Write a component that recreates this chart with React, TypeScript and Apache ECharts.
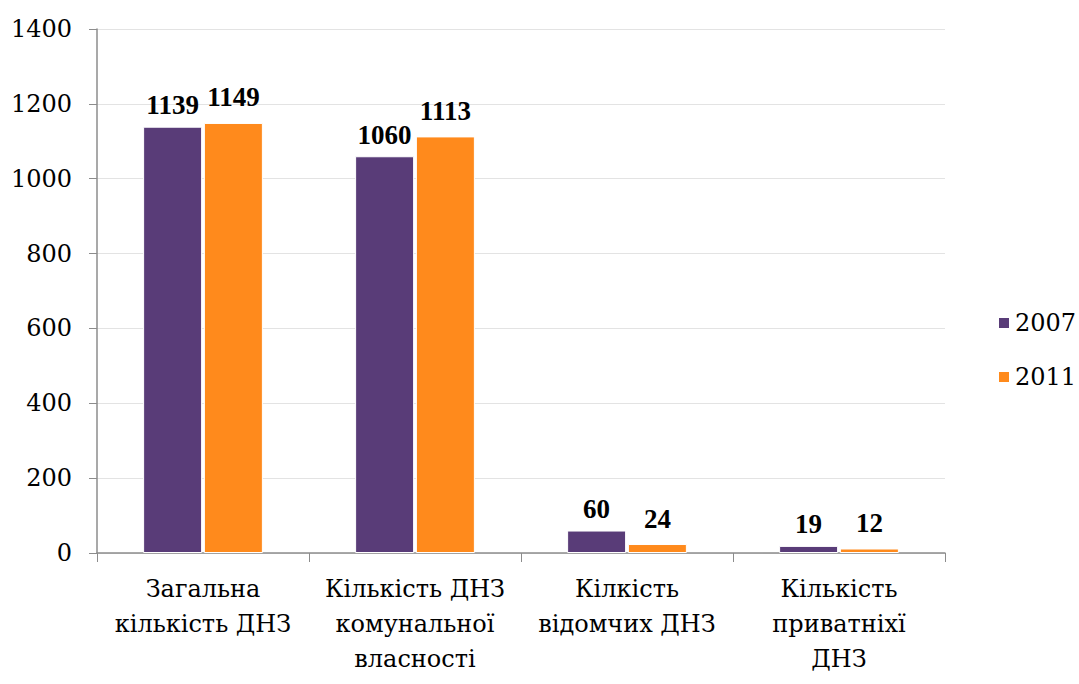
import React, { useEffect, useRef } from "react";
import * as echarts from "echarts";

const categories = [
  "Загальна\nкількість ДНЗ",
  "Кількість ДНЗ\nкомунальної\nвласності",
  "Кілкість\nвідомчих ДНЗ",
  "Кількість\nприватніхї\nДНЗ",
];
const series2007 = [1139, 1060, 60, 19];
const series2011 = [1149, 1113, 24, 12];
const yTicks = { min: 0, max: 1400, interval: 200 };

export default function App() {
  const ref = useRef<HTMLDivElement>(null);
  useEffect(() => {
    if (!ref.current) return;
    const chart = echarts.init(ref.current, undefined, { renderer: "svg" });
    const boldFont = "Liberation Serif";
    const font = "DejaVu Serif";
    const labelCommon = {
      show: true,
      position: "top" as const,
      distance: 8,
      fontFamily: boldFont,
      fontSize: 27,
      fontWeight: "bold" as const,
      color: "#000",
    };
    chart.setOption({
      animation: false,
      backgroundColor: "#fff",
      grid: { left: 97, right: 134, top: 29, bottom: 131 },
      legend: {
        orient: "vertical",
        left: 992,
        top: 306,
        itemWidth: 12,
        itemHeight: 12,
        itemGap: 30,
        icon: "rect",
        textStyle: { fontFamily: font, fontSize: 24, color: "#000" },
        data: ["2007", "2011"],
      },
      xAxis: {
        type: "category",
        data: categories,
        axisLine: { lineStyle: { color: "#8c8c8c", width: 1.5 } },
        axisTick: { show: true, length: 9, lineStyle: { color: "#8c8c8c" } },
        axisLabel: {
          fontFamily: font,
          fontSize: 24,
          lineHeight: 35,
          color: "#000",
          margin: 18,
          interval: 0,
        },
      },
      yAxis: {
        type: "value",
        min: yTicks.min,
        max: yTicks.max,
        interval: yTicks.interval,
        axisLine: { show: true, lineStyle: { color: "#8c8c8c", width: 1.5 } },
        axisTick: { show: true, length: 8, lineStyle: { color: "#8c8c8c" } },
        splitLine: { lineStyle: { color: "#e3e3e3" } },
        axisLabel: {
          fontFamily: font,
          fontSize: 24,
          color: "#000",
          margin: 25,
          formatter: (v: number) => String(v),
        },
      },
      series: [
        {
          name: "2007",
          type: "bar",
          data: series2007,
          barWidth: 59,
          barGap: "3%",
          itemStyle: { color: "#593C78", borderColor: "#fff", borderWidth: 1 },
          label: labelCommon,
        },
        {
          name: "2011",
          type: "bar",
          data: series2011,
          barWidth: 59,
          itemStyle: { color: "#FF8A1C", borderColor: "#fff", borderWidth: 1 },
          label: { ...labelCommon, distance: 12 },
        },
      ],
    });
    return () => chart.dispose();
  }, []);
  return (
    <div
      ref={ref}
      style={{ position: "fixed", left: 0, top: 0, width: 1079, height: 684 }}
    />
  );
}
